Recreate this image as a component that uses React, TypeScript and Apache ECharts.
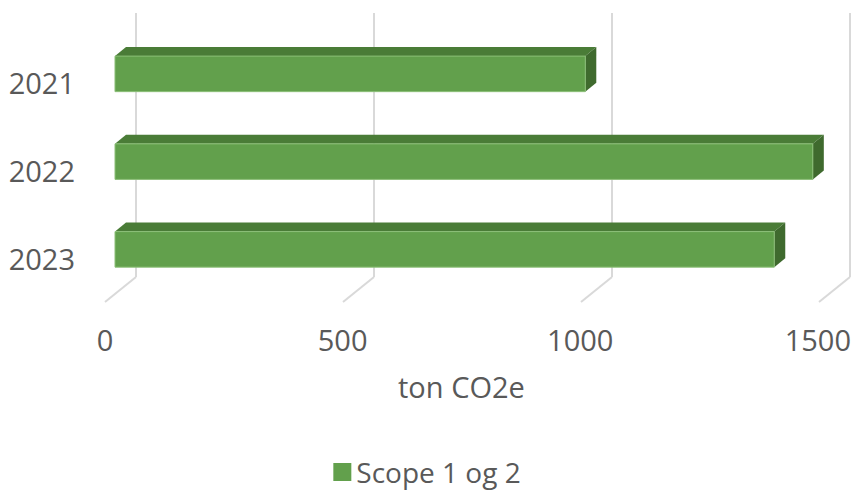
import React, { useEffect, useRef } from "react";
import * as echarts from "echarts";

const categories = ["2021", "2022", "2023"];
const values = [988, 1466, 1385];
const tickValues = [0, 500, 1000, 1500];
const seriesName = "Scope 1 og 2";
const axisTitle = "ton CO2e";

const FONT = "'Open Sans', sans-serif";
const TEXT = "#595959";
const GRID = "#d9d9d9";
const FRONT = "#62a04c";
const TOP = "#4a7c37";
const SIDE = "#3f6a2e";
const FS = 29;

export default function App() {
  const ref = useRef<HTMLDivElement>(null);
  useEffect(() => {
    const chart = echarts.init(ref.current!, null, { renderer: "svg" });
    const dx = 11;
    const dy = 9;
    chart.setOption({
      animation: false,
      textStyle: { fontFamily: FONT },
      legend: {
        data: [seriesName],
        top: 453,
        left: "center",
        icon: "rect",
        itemWidth: 18,
        itemHeight: 18,
        itemGap: 8,
        textStyle: { fontSize: 28, color: TEXT, fontFamily: FONT },
      },
      grid: [
        { left: 136, width: 714, top: 13, height: 264 },
        { left: 105, width: 714, top: 290, height: 12 },
        { left: 115, width: 714, top: 30, height: 263.25 },
        { left: 115, width: 714, top: 39, height: 263 },
      ],
      xAxis: [
        {
          gridIndex: 0, type: "value", min: 0, max: 1500, interval: 500,
          axisLine: { show: false }, axisTick: { show: false }, axisLabel: { show: false },
          splitLine: { show: true, lineStyle: { color: GRID, width: 2 } },
        },
        {
          gridIndex: 1, type: "value", min: 0, max: 1500, interval: 500,
          axisLine: { show: false }, axisTick: { show: false },
          splitLine: { show: false },
          axisLabel: {
            show: true, fontSize: FS, color: TEXT, fontFamily: FONT, margin: 23,
            formatter: (v: number) => String(v),
          },
          name: axisTitle,
          nameLocation: "middle",
          nameGap: 70,
          nameTextStyle: { fontSize: FS, color: TEXT, fontFamily: FONT },
        },
        { gridIndex: 2, type: "value", min: 0, max: 1500, interval: 500, show: false },
        { gridIndex: 3, type: "value", min: 0, max: 1500, interval: 500, show: false },
      ],
      yAxis: [
        { gridIndex: 0, type: "value", min: 0, max: 1, show: false },
        { gridIndex: 1, type: "value", min: 0, max: 1, show: false },
        { gridIndex: 2, type: "category", data: categories, inverse: true, show: false },
        {
          gridIndex: 3, type: "category", data: categories, inverse: true,
          axisLine: { show: false }, axisTick: { show: false },
          axisLabel: { fontSize: FS, color: TEXT, fontFamily: FONT, margin: 40 },
        },
      ],
      series: [
        {
          type: "custom",
          name: "floor",
          xAxisIndex: 0,
          yAxisIndex: 0,
          silent: true,
          data: tickValues.map((v) => [v, 0]),
          renderItem: (params: any, api: any) => {
            const p = api.coord([api.value(0), 0]);
            return {
              type: "line",
              shape: { x1: p[0], y1: p[1], x2: p[0] - 31, y2: p[1] + 25 },
              style: { stroke: GRID, lineWidth: 2 },
            };
          },
        },
        {
          type: "custom",
          name: seriesName,
          xAxisIndex: 2,
          yAxisIndex: 2,
          itemStyle: { color: FRONT },
          data: values.map((v, i) => [v, i]),
          renderItem: (params: any, api: any) => {
            const idx = api.value(1);
            const s = api.coord([0, idx]);
            const e = api.coord([api.value(0), idx]);
            const h = api.size([0, 1])[1] * 0.405;
            const x0 = s[0];
            const x1 = e[0];
            const y0 = s[1] - h / 2;
            const y1 = s[1] + h / 2;
            return {
              type: "group",
              children: [
                {
                  type: "polygon",
                  shape: { points: [[x0, y0], [x0 + dx, y0 - dy], [x1 + dx, y0 - dy], [x1, y0]] },
                  style: { fill: TOP },
                },
                {
                  type: "polygon",
                  shape: { points: [[x1, y0], [x1 + dx, y0 - dy], [x1 + dx, y1 - dy], [x1, y1]] },
                  style: { fill: SIDE },
                },
                {
                  type: "rect",
                  shape: { x: x0, y: y0, width: x1 - x0, height: y1 - y0 },
                  style: { fill: FRONT, stroke: "#8cbf78", lineWidth: 1 },
                },
              ],
            };
          },
        },
      ],
    });
    return () => chart.dispose();
  }, []);
  return (
    <div
      ref={ref}
      style={{ position: "fixed", left: 0, top: 0, width: 854, height: 490, background: "#fff" }}
    />
  );
}
